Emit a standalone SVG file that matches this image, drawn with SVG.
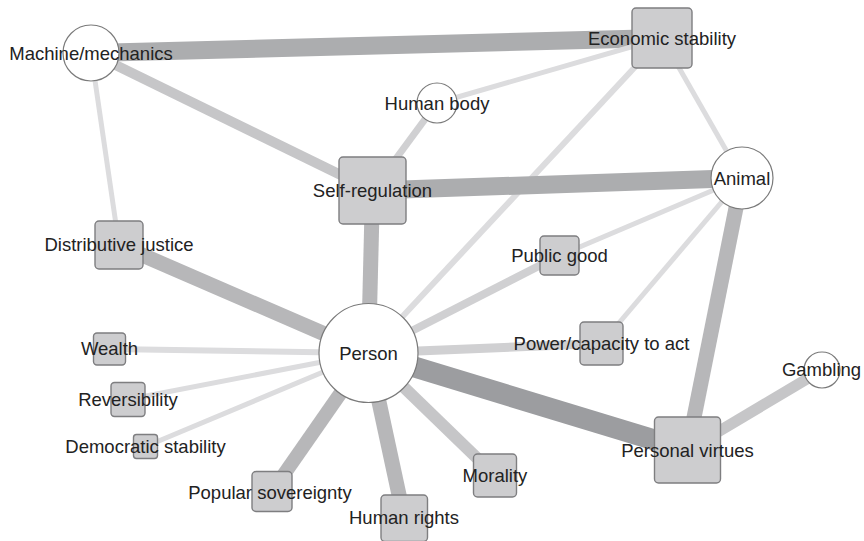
<svg xmlns="http://www.w3.org/2000/svg" width="864" height="541" viewBox="0 0 864 541">
  <style>
    .bg { fill: #ffffff; }
    .edge { fill: none; stroke-linecap: butt; }
    .w1 { stroke: #dcdcde; }
    .w2 { stroke: #d0d0d2; }
    .w3 { stroke: #c6c6c8; }
    .w4 { stroke: #b7b7b9; }
    .w5 { stroke: #acadaf; }
    .w6 { stroke: #9c9da0; }
    .circ { fill: #ffffff; stroke: #7a7a7a; stroke-width: 1.2; }
    .sq { fill: #cdcdcf; stroke: #7e7e80; stroke-width: 1.4; }
    .lbl { font-family: "Liberation Sans", Arial, sans-serif; font-size: 18.5px; fill: #222222; text-anchor: middle; }
  </style>
  <rect class="bg" x="0" y="0" width="864" height="541"/>

  <!-- connectors: stroke width encodes link strength -->
  <g id="edges">
    <line class="edge w5" x1="91" y1="53" x2="662" y2="38" stroke-width="18"/>
    <line class="edge w3" x1="91" y1="53" x2="372.5" y2="190.5" stroke-width="10"/>
    <line class="edge w1" x1="91" y1="53" x2="119" y2="245" stroke-width="5"/>
    <line class="edge w1" x1="437" y1="103" x2="662" y2="38" stroke-width="5"/>
    <line class="edge w2" x1="437" y1="103" x2="372.5" y2="190.5" stroke-width="7"/>
    <line class="edge w1" x1="662" y1="38" x2="742" y2="178" stroke-width="5"/>
    <line class="edge w1" x1="662" y1="38" x2="368.5" y2="353" stroke-width="6"/>
    <line class="edge w5" x1="372.5" y1="190.5" x2="742" y2="178" stroke-width="18"/>
    <line class="edge w4" x1="372.5" y1="190.5" x2="368.5" y2="353" stroke-width="15"/>
    <line class="edge w1" x1="742" y1="178" x2="559.5" y2="255.5" stroke-width="5"/>
    <line class="edge w1" x1="742" y1="178" x2="601.5" y2="343.5" stroke-width="5"/>
    <line class="edge w4" x1="742" y1="178" x2="687.5" y2="450" stroke-width="15"/>
    <line class="edge w3" x1="822" y1="370" x2="687.5" y2="450" stroke-width="11"/>
    <line class="edge w6" x1="368.5" y1="353" x2="687.5" y2="450" stroke-width="21"/>
    <line class="edge w2" x1="368.5" y1="353" x2="601.5" y2="343.5" stroke-width="9"/>
    <line class="edge w2" x1="368.5" y1="353" x2="559.5" y2="255.5" stroke-width="8"/>
    <line class="edge w4" x1="368.5" y1="353" x2="119" y2="245" stroke-width="15"/>
    <line class="edge w1" x1="368.5" y1="353" x2="109.5" y2="349" stroke-width="6"/>
    <line class="edge w1" x1="368.5" y1="353" x2="128" y2="399.5" stroke-width="5"/>
    <line class="edge w1" x1="368.5" y1="353" x2="145.5" y2="446.5" stroke-width="5"/>
    <line class="edge w4" x1="368.5" y1="353" x2="272" y2="491.5" stroke-width="14"/>
    <line class="edge w4" x1="368.5" y1="353" x2="404" y2="518" stroke-width="15"/>
    <line class="edge w3" x1="368.5" y1="353" x2="495" y2="475.5" stroke-width="12"/>
  </g>

  <!-- nodes: circles and rounded squares, each with its label -->
  <g id="node-machine">
    <circle class="circ" cx="91" cy="53" r="28"/>
    <text class="lbl" x="91" y="59.5">Machine/mechanics</text>
  </g>
  <g id="node-economic-stability">
    <rect class="sq" x="632" y="8" width="60" height="60" rx="4"/>
    <text class="lbl" x="662" y="44.5">Economic stability</text>
  </g>
  <g id="node-human-body">
    <circle class="circ" cx="437" cy="103" r="20"/>
    <text class="lbl" x="437" y="109.5">Human body</text>
  </g>
  <g id="node-self-regulation">
    <rect class="sq" x="339" y="157" width="67" height="67" rx="4"/>
    <text class="lbl" x="372.5" y="197">Self-regulation</text>
  </g>
  <g id="node-animal">
    <circle class="circ" cx="742" cy="178" r="31"/>
    <text class="lbl" x="742" y="184.5">Animal</text>
  </g>
  <g id="node-distributive-justice">
    <rect class="sq" x="95" y="221" width="48" height="48" rx="4"/>
    <text class="lbl" x="119" y="251">Distributive justice</text>
  </g>
  <g id="node-public-good">
    <rect class="sq" x="540" y="236" width="39" height="39" rx="4"/>
    <text class="lbl" x="559.5" y="262">Public good</text>
  </g>
  <g id="node-wealth">
    <rect class="sq" x="93.5" y="333" width="32" height="32" rx="3.5"/>
    <text class="lbl" x="109.5" y="355">Wealth</text>
  </g>
  <g id="node-reversibility">
    <rect class="sq" x="111" y="382.5" width="34" height="34" rx="3.5"/>
    <text class="lbl" x="128" y="406">Reversibility</text>
  </g>
  <g id="node-democratic-stability">
    <rect class="sq" x="133.5" y="434.5" width="24" height="24" rx="3"/>
    <text class="lbl" x="145.5" y="453">Democratic stability</text>
  </g>
  <g id="node-power">
    <rect class="sq" x="580" y="322" width="43" height="43" rx="4"/>
    <text class="lbl" x="601.5" y="350">Power/capacity to act</text>
  </g>
  <g id="node-gambling">
    <circle class="circ" cx="822" cy="370" r="18"/>
    <text class="lbl" x="821.5" y="376">Gambling</text>
  </g>
  <g id="node-person">
    <circle class="circ" cx="368.5" cy="353" r="49.5"/>
    <text class="lbl" x="368.5" y="360">Person</text>
  </g>
  <g id="node-personal-virtues">
    <rect class="sq" x="654.5" y="417" width="66" height="66" rx="4"/>
    <text class="lbl" x="687.5" y="456.5">Personal virtues</text>
  </g>
  <g id="node-popular-sovereignty">
    <rect class="sq" x="252" y="471.5" width="40" height="40" rx="4"/>
    <text class="lbl" x="270" y="498.5">Popular sovereignty</text>
  </g>
  <g id="node-morality">
    <rect class="sq" x="473.5" y="454" width="43" height="43" rx="4"/>
    <text class="lbl" x="495" y="482">Morality</text>
  </g>
  <g id="node-human-rights">
    <rect class="sq" x="381" y="495" width="46.5" height="46.5" rx="4"/>
    <text class="lbl" x="404" y="524">Human rights</text>
  </g>
</svg>
